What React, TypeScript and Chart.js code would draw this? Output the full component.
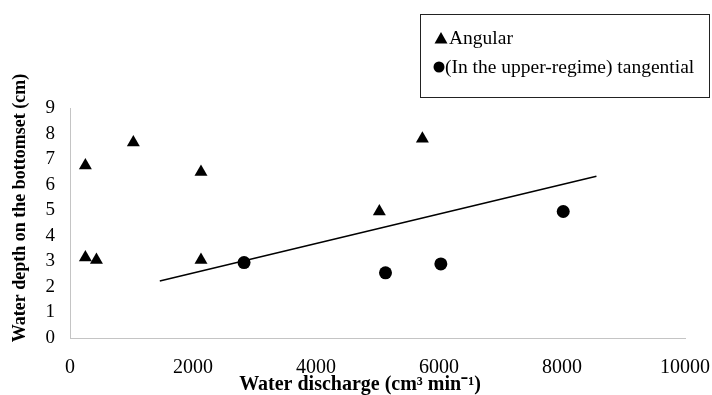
import React, { useEffect, useRef } from "react";
import { Chart, registerables } from "chart.js";

Chart.register(...registerables);

const angularX = [250, 250, 430, 1030, 2130, 2130, 5030, 5730];
const angularY = [6.75, 3.15, 3.05, 7.65, 6.5, 3.05, 4.95, 7.8];
const tangentialX = [2830, 5130, 6030, 8020];
const tangentialY = [2.95, 2.55, 2.9, 4.95];
const trendX = [1460, 8560];
const trendY = [2.23, 6.33];
const seriesNames = ["Angular", "(In the upper-regime) tangential"];
const xTicks = [0, 2000, 4000, 6000, 8000, 10000];
const yTicks = [0, 1, 2, 3, 4, 5, 6, 7, 8, 9];
const xTitle = "Water discharge (cm³ min⁻¹)";
const yTitle = "Water depth on the bottomset (cm)";

const FONT = "'Liberation Serif', 'Times New Roman', serif";

const legendPlugin = {
  id: "boxLegend",
  afterDraw(chart: any) {
    const ctx = chart.ctx;
    ctx.save();
    // legend box
    ctx.strokeStyle = "#222";
    ctx.lineWidth = 1;
    ctx.strokeRect(420.5, 14.5, 289, 83);
    ctx.fillStyle = "#000";
    ctx.font = `19.5px ${FONT}`;
    ctx.textBaseline = "middle";
    ctx.textAlign = "left";
    const tx = 441, ty = 38;
    ctx.beginPath();
    ctx.moveTo(tx, ty - 6);
    ctx.lineTo(tx + 6.5, ty + 5.5);
    ctx.lineTo(tx - 6.5, ty + 5.5);
    ctx.closePath();
    ctx.fill();
    ctx.fillText(seriesNames[0], 449, 39);
    ctx.beginPath();
    ctx.arc(439, 67, 5.5, 0, Math.PI * 2);
    ctx.fill();
    ctx.fillText(seriesNames[1], 445, 68);

    // axis titles
    ctx.font = `bold 20px ${FONT}`;
    ctx.textAlign = "center";
    ctx.fillText(xTitle, 360, 385);
    ctx.save();
    ctx.translate(20, 208);
    ctx.rotate(-Math.PI / 2);
    ctx.font = `bold 18px ${FONT}`;
    ctx.fillText(yTitle, 0, 0);
    ctx.restore();
    ctx.restore();
  },
};

export default function App() {
  const ref = useRef<HTMLCanvasElement | null>(null);
  useEffect(() => {
    document.body.style.margin = "0";
    const canvas = ref.current;
    if (!canvas) return;
    const chart = new Chart(canvas, {
      type: "scatter",
      data: {
        datasets: [
          {
            label: seriesNames[0],
            data: angularX.map((x, i) => ({ x, y: angularY[i] })),
            pointStyle: "triangle",
            pointRadius: 7.5,
            backgroundColor: "#000",
            borderColor: "#000",
            borderWidth: 0,
          },
          {
            label: seriesNames[1],
            data: tangentialX.map((x, i) => ({ x, y: tangentialY[i] })),
            pointStyle: "circle",
            pointRadius: 6.5,
            backgroundColor: "#000",
            borderColor: "#000",
            borderWidth: 0,
          },
          {
            label: "trend",
            type: "line",
            data: trendX.map((x, i) => ({ x, y: trendY[i] })),
            borderColor: "#000",
            borderWidth: 1.5,
            pointRadius: 0,
            showLine: true,
            fill: false,
          } as any,
        ],
      },
      options: {
        animation: false,
        responsive: false,
        layout: { padding: { top: 108, right: 27, left: 0, bottom: 0 } },
        plugins: {
          legend: { display: false },
          tooltip: { enabled: false },
        },
        scales: {
          x: {
            type: "linear",
            min: 0,
            max: 10000,
            afterBuildTicks: (s: any) => {
              s.ticks = xTicks.map((v) => ({ value: v }));
            },
            afterFit: (s: any) => {
              s.height = 57;
              s.paddingRight = 0;
              s.paddingLeft = 0;
            },
            grid: { display: false, drawTicks: false },
            border: { display: true, color: "#c4c4c4", dash: [1, 2], width: 1 },
            ticks: {
              color: "#000",
              padding: 18,
              maxRotation: 0,
              autoSkip: false,
              font: { family: FONT, size: 20 },
              callback: (v: any) => String(v),
            },
            title: { display: false },
          },
          y: {
            type: "linear",
            min: 0,
            max: 9,
            afterBuildTicks: (s: any) => {
              s.ticks = yTicks.map((v) => ({ value: v }));
            },
            afterFit: (s: any) => {
              s.width = 70;
              s.paddingTop = 0;
              s.paddingBottom = 0;
            },
            grid: { display: false, drawTicks: false },
            border: { display: true, color: "#c4c4c4", dash: [1, 2], width: 1 },
            ticks: {
              color: "#000",
              padding: 15,
              autoSkip: false,
              font: { family: FONT, size: 19 },
              callback: (v: any) => String(v),
            },
            title: { display: false },
          },
        },
      },
      plugins: [legendPlugin],
    } as any);
    return () => chart.destroy();
  }, []);
  return (
    <div style={{ width: 712, height: 395, background: "#fff" }}>
      <canvas ref={ref} width={712} height={395} style={{ display: "block" }} />
    </div>
  );
}
